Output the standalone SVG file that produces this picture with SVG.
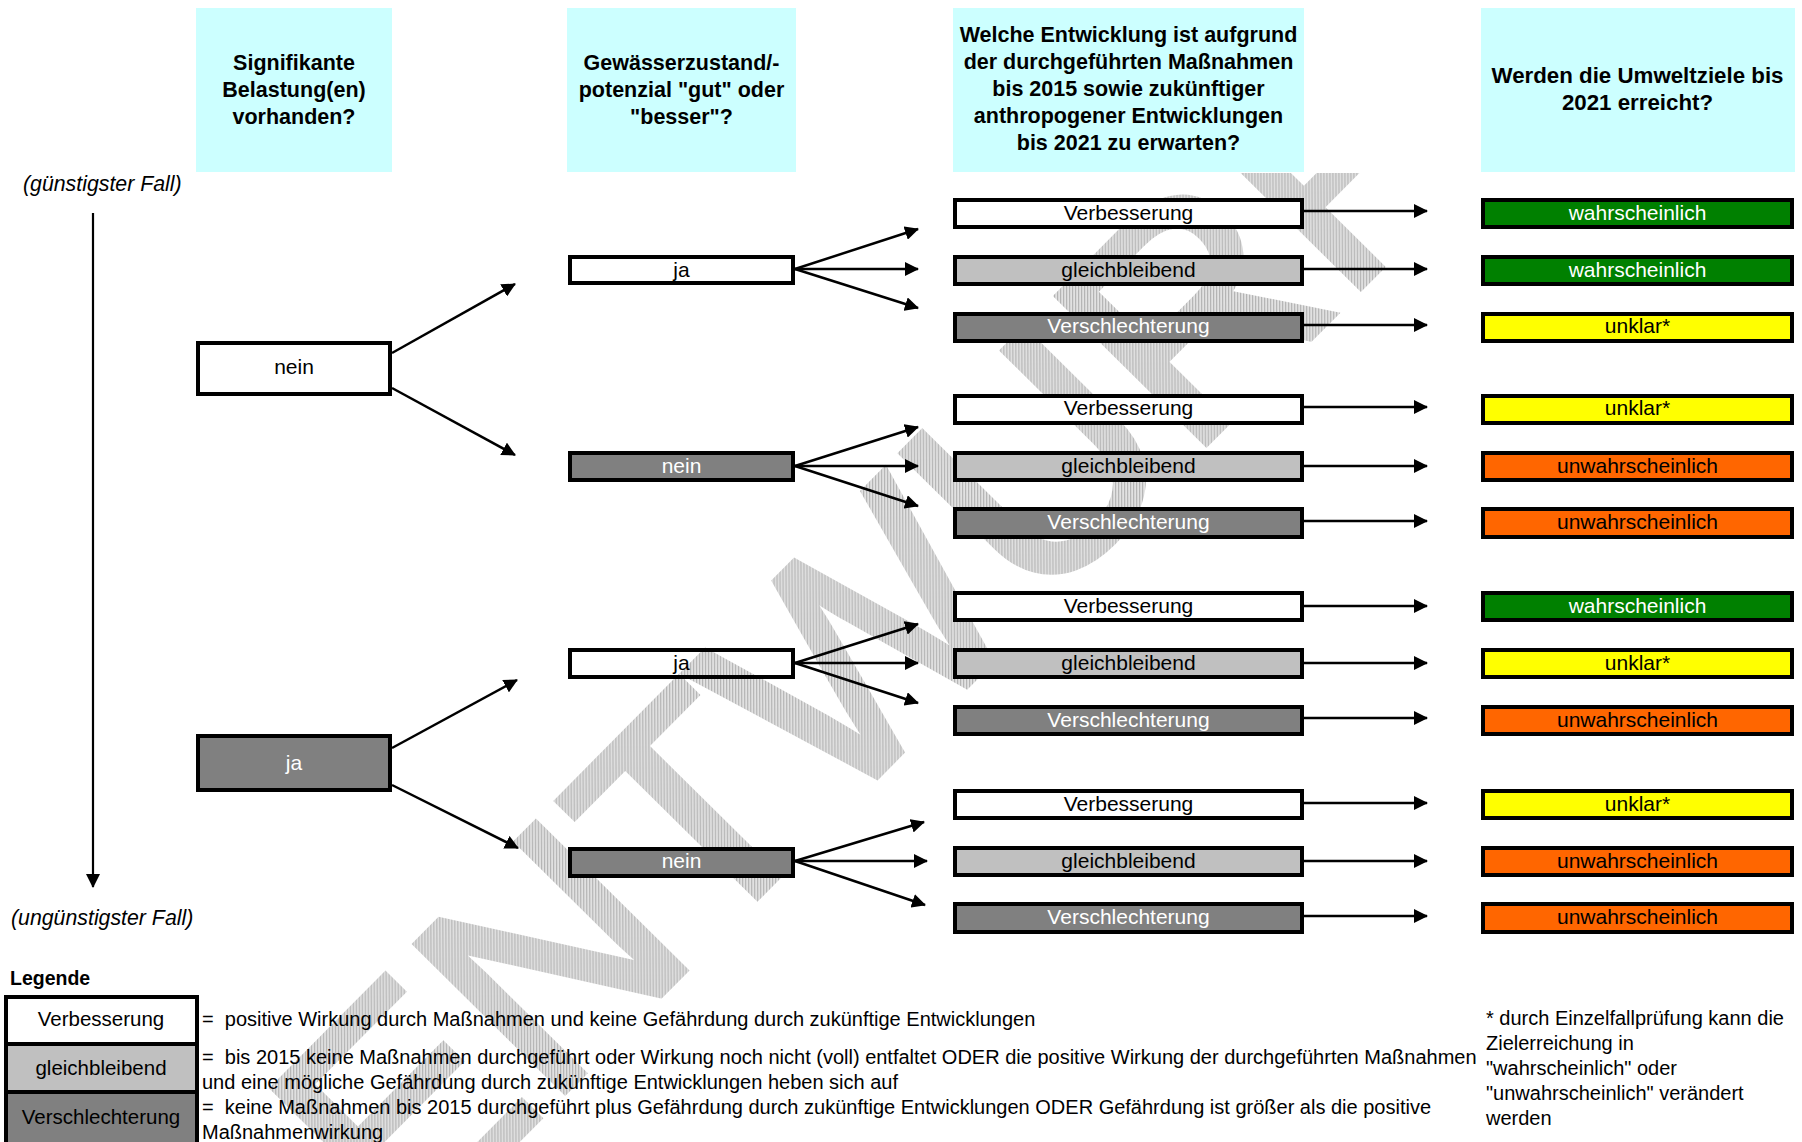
<svg xmlns="http://www.w3.org/2000/svg" width="1802" height="1142" viewBox="0 0 1802 1142">
<defs>
<style>
.t{font-family:"Liberation Sans",Arial,sans-serif;font-size:21px;text-anchor:middle;fill:#000}
.h{font-weight:bold;font-size:21.5px}
.h4{font-size:22.3px}
.w{fill:#fff}
.it{font-family:"Liberation Sans",Arial,sans-serif;font-size:21.3px;font-style:italic;fill:#000}
.lg{font-family:"Liberation Sans",Arial,sans-serif;font-size:20px;fill:#000}
.lb{font-family:"Liberation Sans",Arial,sans-serif;font-size:20.5px;text-anchor:middle;fill:#000}
.hdr{fill:#CCFFFF}
.b{stroke:#000;stroke-width:4}
.white{fill:#fff}
.lgrey{fill:#C0C0C0}
.dgrey{fill:#808080}
.green{fill:#008000}
.yellow{fill:#FFFF00}
.orange{fill:#FF6600}
.c{stroke:#000;stroke-width:2.5;fill:none;marker-end:url(#ah)}
</style>
<marker id="ah" markerUnits="userSpaceOnUse" markerWidth="15" markerHeight="14" refX="13" refY="7" orient="auto" viewBox="0 0 15 14">
<path d="M0,0 L14,7 L0,14 z" fill="#000"/>
</marker>
<pattern id="hatch" width="3" height="3" patternUnits="userSpaceOnUse" patternTransform="rotate(45)">
<rect width="3" height="3" fill="#E2E2E2"/>
<rect width="1.2" height="3" fill="#B4B4B4"/>
</pattern>
<clipPath id="wmclip"><rect x="0" y="173" width="1802" height="969"/></clipPath>
</defs>
<rect width="1802" height="1142" fill="#fff"/>

<g id="watermark" clip-path="url(#wmclip)">
<text x="0" y="0" transform="translate(405,1253) rotate(-45.3)" font-family="Liberation Sans, Arial, sans-serif" font-size="304" fill="url(#hatch)" stroke="url(#hatch)" stroke-width="7">ENTWURF</text>
</g>

<g id="headers">
<g id="h1"><rect class="hdr" x="196" y="8" width="196" height="164"/>
<text class="t h" x="294" y="69.5">Signifikante</text><text class="t h" x="294" y="96.5">Belastung(en)</text><text class="t h" x="294" y="123.5">vorhanden?</text></g>
<g id="h2"><rect class="hdr" x="567" y="8" width="229" height="164"/>
<text class="t h" x="681.5" y="69.5">Gewässerzustand/-</text><text class="t h" x="681.5" y="96.5">potenzial "gut" oder</text><text class="t h" x="681.5" y="123.5">"besser"?</text></g>
<g id="h3"><rect class="hdr" x="953" y="8" width="351" height="164"/>
<text class="t h" x="1128.5" y="41.5">Welche Entwicklung ist aufgrund</text><text class="t h" x="1128.5" y="68.5">der durchgeführten Maßnahmen</text><text class="t h" x="1128.5" y="95.5">bis 2015 sowie zukünftiger</text><text class="t h" x="1128.5" y="122.5">anthropogener Entwicklungen</text><text class="t h" x="1128.5" y="149.5">bis 2021 zu erwarten?</text></g>
<g id="h4"><rect class="hdr" x="1481" y="8" width="314" height="164"/>
<text class="t h h4" x="1637.5" y="83">Werden die Umweltziele bis</text><text class="t h h4" x="1637.5" y="110">2021 erreicht?</text></g>
</g>

<g id="scale">
<text class="it" x="23" y="191">(günstigster Fall)</text>
<line x1="93" y1="213" x2="93" y2="887" stroke="#000" stroke-width="2.2" marker-end="url(#ah)"/>
<text class="it" x="11" y="925">(ungünstigster Fall)</text>
</g>

<g id="connectors">
<line class="c" x1="392" y1="353" x2="515" y2="284"/>
<line class="c" x1="392" y1="388" x2="515" y2="455"/>
<line class="c" x1="392" y1="748" x2="517" y2="680"/>
<line class="c" x1="392" y1="785" x2="518" y2="848"/>
<line class="c" x1="795" y1="269" x2="918" y2="229"/>
<line class="c" x1="795" y1="269" x2="918" y2="269"/>
<line class="c" x1="795" y1="269" x2="918" y2="308"/>
<line class="c" x1="795" y1="466" x2="918" y2="427"/>
<line class="c" x1="795" y1="466" x2="918" y2="466"/>
<line class="c" x1="795" y1="466" x2="918" y2="506"/>
<line class="c" x1="795" y1="663" x2="918" y2="624"/>
<line class="c" x1="795" y1="663" x2="918" y2="663"/>
<line class="c" x1="795" y1="663" x2="918" y2="703"/>
<line class="c" x1="795" y1="861" x2="924" y2="822"/>
<line class="c" x1="795" y1="861" x2="927" y2="861"/>
<line class="c" x1="795" y1="861" x2="925" y2="905"/>
<line class="c" x1="1304" y1="211" x2="1427" y2="211"/>
<line class="c" x1="1304" y1="269" x2="1427" y2="269"/>
<line class="c" x1="1304" y1="325" x2="1427" y2="325"/>
<line class="c" x1="1304" y1="407" x2="1427" y2="407"/>
<line class="c" x1="1304" y1="466" x2="1427" y2="466"/>
<line class="c" x1="1304" y1="521" x2="1427" y2="521"/>
<line class="c" x1="1304" y1="606" x2="1427" y2="606"/>
<line class="c" x1="1304" y1="663" x2="1427" y2="663"/>
<line class="c" x1="1304" y1="718" x2="1427" y2="718"/>
<line class="c" x1="1304" y1="803" x2="1427" y2="803"/>
<line class="c" x1="1304" y1="861" x2="1427" y2="861"/>
<line class="c" x1="1304" y1="916" x2="1427" y2="916"/>
</g>

<g id="n1-nein"><rect class="b white" x="198" y="343" width="192" height="51"/><text class="t" x="294" y="374">nein</text></g>
<g id="n1-ja"><rect class="b dgrey" x="198" y="736" width="192" height="54"/><text class="t w" x="294" y="770">ja</text></g>

<g id="n2-ja1"><rect class="b" fill="none" x="570" y="257" width="223" height="26"/><text class="t" x="681.5" y="277">ja</text></g>
<g id="n2-nein1"><rect class="b dgrey" x="570" y="453" width="223" height="27"/><text class="t w" x="681.5" y="473">nein</text></g>
<g id="n2-ja2"><rect class="b" fill="none" x="570" y="650" width="223" height="27"/><text class="t" x="681.5" y="670">ja</text></g>
<g id="n2-nein2"><rect class="b dgrey" x="570" y="849" width="223" height="27"/><text class="t w" x="681.5" y="868">nein</text></g>

<g id="n3-v1"><rect class="b white" x="955" y="200" width="347" height="27"/><text class="t" x="1128.5" y="220">Verbesserung</text></g>
<g id="n3-g1"><rect class="b lgrey" x="955" y="257" width="347" height="27"/><text class="t" x="1128.5" y="277">gleichbleibend</text></g>
<g id="n3-s1"><rect class="b dgrey" x="955" y="314" width="347" height="27"/><text class="t w" x="1128.5" y="333">Verschlechterung</text></g>
<g id="n3-v2"><rect class="b white" x="955" y="396" width="347" height="27"/><text class="t" x="1128.5" y="415">Verbesserung</text></g>
<g id="n3-g2"><rect class="b lgrey" x="955" y="453" width="347" height="27"/><text class="t" x="1128.5" y="473">gleichbleibend</text></g>
<g id="n3-s2"><rect class="b dgrey" x="955" y="509" width="347" height="28"/><text class="t w" x="1128.5" y="529">Verschlechterung</text></g>
<g id="n3-v3"><rect class="b white" x="955" y="593" width="347" height="27"/><text class="t" x="1128.5" y="613">Verbesserung</text></g>
<g id="n3-g3"><rect class="b lgrey" x="955" y="650" width="347" height="27"/><text class="t" x="1128.5" y="670">gleichbleibend</text></g>
<g id="n3-s3"><rect class="b dgrey" x="955" y="707" width="347" height="27"/><text class="t w" x="1128.5" y="727">Verschlechterung</text></g>
<g id="n3-v4"><rect class="b white" x="955" y="791" width="347" height="27"/><text class="t" x="1128.5" y="811">Verbesserung</text></g>
<g id="n3-g4"><rect class="b lgrey" x="955" y="848" width="347" height="27"/><text class="t" x="1128.5" y="868">gleichbleibend</text></g>
<g id="n3-s4"><rect class="b dgrey" x="955" y="904" width="347" height="28"/><text class="t w" x="1128.5" y="924">Verschlechterung</text></g>

<g id="r1"><rect class="b green" x="1483" y="200" width="309" height="27"/><text class="t w" x="1637.5" y="220">wahrscheinlich</text></g>
<g id="r2"><rect class="b green" x="1483" y="257" width="309" height="27"/><text class="t w" x="1637.5" y="277">wahrscheinlich</text></g>
<g id="r3"><rect class="b yellow" x="1483" y="314" width="309" height="27"/><text class="t" x="1637.5" y="333">unklar*</text></g>
<g id="r4"><rect class="b yellow" x="1483" y="396" width="309" height="27"/><text class="t" x="1637.5" y="415">unklar*</text></g>
<g id="r5"><rect class="b orange" x="1483" y="453" width="309" height="27"/><text class="t" x="1637.5" y="473">unwahrscheinlich</text></g>
<g id="r6"><rect class="b orange" x="1483" y="509" width="309" height="28"/><text class="t" x="1637.5" y="529">unwahrscheinlich</text></g>
<g id="r7"><rect class="b green" x="1483" y="593" width="309" height="27"/><text class="t w" x="1637.5" y="613">wahrscheinlich</text></g>
<g id="r8"><rect class="b yellow" x="1483" y="650" width="309" height="27"/><text class="t" x="1637.5" y="670">unklar*</text></g>
<g id="r9"><rect class="b orange" x="1483" y="707" width="309" height="27"/><text class="t" x="1637.5" y="727">unwahrscheinlich</text></g>
<g id="r10"><rect class="b yellow" x="1483" y="791" width="309" height="27"/><text class="t" x="1637.5" y="811">unklar*</text></g>
<g id="r11"><rect class="b orange" x="1483" y="848" width="309" height="27"/><text class="t" x="1637.5" y="868">unwahrscheinlich</text></g>
<g id="r12"><rect class="b orange" x="1483" y="904" width="309" height="28"/><text class="t" x="1637.5" y="924">unwahrscheinlich</text></g>

<g id="legend">
<text x="10" y="985" font-family="Liberation Sans, Arial, sans-serif" font-size="19.5" font-weight="bold">Legende</text>
<g id="lg-v"><rect class="b white" x="6" y="997" width="191" height="47"/><text class="lb" x="101" y="1026">Verbesserung</text></g>
<g id="lg-g"><rect class="b lgrey" x="6" y="1044" width="191" height="48"/><text class="lb" x="101" y="1075">gleichbleibend</text></g>
<g id="lg-s"><rect class="b dgrey" x="6" y="1092" width="191" height="52"/><text class="lb w" x="101" y="1124">Verschlechterung</text></g>
<text class="lg" x="202" y="1026">=&#160; positive Wirkung durch Maßnahmen und keine Gefährdung durch zukünftige Entwicklungen</text>
<text class="lg" x="202" y="1064">=&#160; bis 2015 keine Maßnahmen durchgeführt oder Wirkung noch nicht (voll) entfaltet ODER die positive Wirkung der durchgeführten Maßnahmen</text>
<text class="lg" x="202" y="1089">und eine mögliche Gefährdung durch zukünftige Entwicklungen heben sich auf</text>
<text class="lg" x="202" y="1114">=&#160; keine Maßnahmen bis 2015 durchgeführt plus Gefährdung durch zukünftige Entwicklungen ODER Gefährdung ist größer als die positive</text>
<text class="lg" x="202" y="1139">Maßnahmenwirkung</text>
</g>

<g id="footnote">
<text class="lg" x="1486" y="1025">* durch Einzelfallprüfung kann die</text>
<text class="lg" x="1486" y="1050">Zielerreichung in</text>
<text class="lg" x="1486" y="1075">"wahrscheinlich" oder</text>
<text class="lg" x="1486" y="1100">"unwahrscheinlich" verändert</text>
<text class="lg" x="1486" y="1125">werden</text>
</g>
</svg>
